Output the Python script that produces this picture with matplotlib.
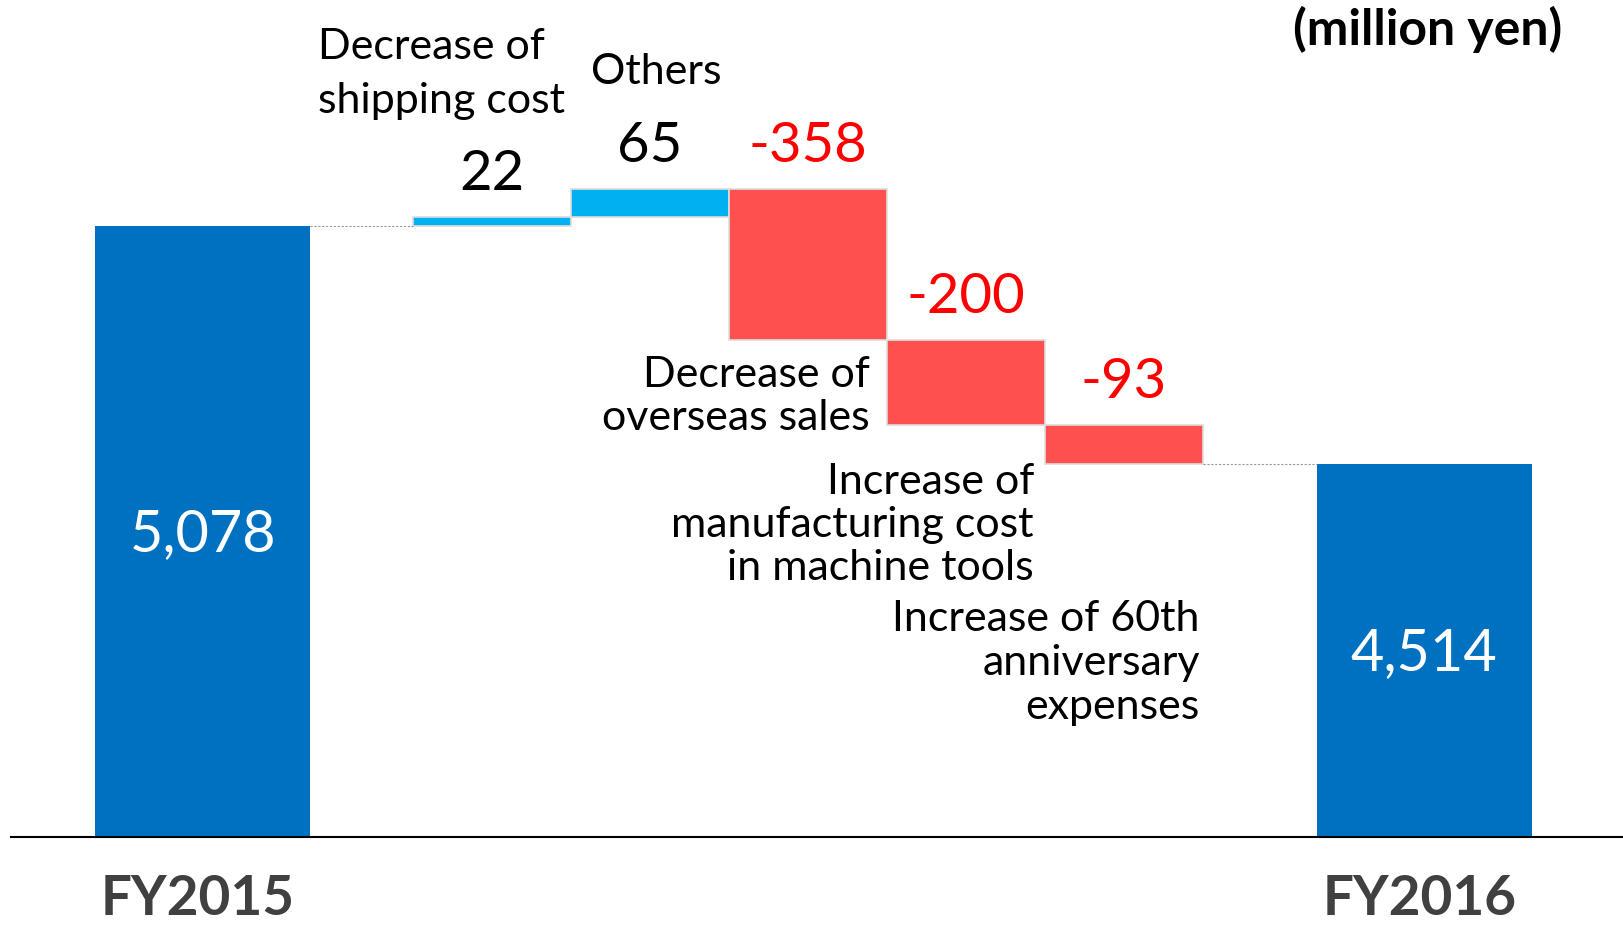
import numpy as np
import matplotlib.pyplot as plt

plt.rcParams['font.family'] = ['Lato', 'DejaVu Sans']

# operating income bridge, million yen
start_label = 'FY2015'
end_label = 'FY2016'
start_value = 5078
end_value = 4514
step_names = ['Decrease of\nshipping cost',
              'Others',
              'Decrease of\noverseas sales',
              'Increase of\nmanufacturing cost\nin machine tools',
              'Increase of 60th\nanniversary\nexpenses']
step_values = [22, 65, -358, -200, -93]
unit_label = '(million yen)'

DARK_BLUE = '#0070C0'
LIGHT_BLUE = '#00B0F0'
RED_BAR = '#FF5050'
RED_TEXT = '#FF0000'
PT = 0.72  # pixels -> points at dpi 100
LABEL_FS = 31

steps = np.array(step_values)
ends = start_value + np.cumsum(steps)
starts = ends - steps
bottoms = np.minimum(starts, ends)
tops = np.maximum(starts, ends)

step_x = np.arange(len(steps))
start_x = -1.83
end_x = step_x[-1] + 1.9
total_w = 1.36

fig = plt.figure(figsize=(16.24, 9.27), dpi=100)
ax = fig.add_axes([11 / 1624, 90 / 927, 1 - 11 / 1624, 837 / 927])
ax.set_xlim(-3.044, 7.165)
ax.set_ylim(3630, 5613)

# totals
ax.bar([start_x, end_x], [start_value, end_value], width=total_w, color=DARK_BLUE)

# changes
colors = [LIGHT_BLUE if v > 0 else RED_BAR for v in steps]
ax.bar(step_x, np.abs(steps), bottom=bottoms, width=1.0, color=colors,
       edgecolor='#DDDDDD', linewidth=1.2)

# connectors
ax.plot([start_x + total_w / 2, step_x[0] - 0.5], [start_value, start_value],
        ls=(0, (2, 1.5)), color='#999999', lw=0.8)
ax.plot([step_x[-1] + 0.5, end_x - total_w / 2], [end_value, end_value],
        ls=(0, (2, 1.5)), color='#999999', lw=0.8)

# value labels
for x, v, top in zip(step_x, steps, tops):
    ax.annotate(f'{v:d}', (x, top), xytext=(0, 27 * PT), textcoords='offset points',
                ha='center', va='baseline', fontsize=40.5,
                color='black' if v > 0 else RED_TEXT)

for x, v in [(start_x, start_value), (end_x, end_value)]:
    ax.annotate(f'{v:,}', (x, (v + 3630) / 2), xytext=(0, -20 * PT),
                textcoords='offset points', ha='center', va='baseline',
                fontsize=41.5, color='white')

# category labels
ax.annotate(step_names[0], (step_x[0] - 0.5, ends[0]), xytext=(-95 * PT, 97 * PT),
            textcoords='offset points', ha='left', va='bottom', fontsize=LABEL_FS,
            linespacing=1.5)
ax.annotate(step_names[1], (step_x[1], ends[1]), xytext=(6 * PT, 98 * PT),
            textcoords='offset points', ha='center', va='bottom', fontsize=LABEL_FS)
ax.annotate(step_names[2], (step_x[2] + 0.5, ends[2]), xytext=(-17 * PT, -16 * PT),
            textcoords='offset points', ha='right', va='top', fontsize=LABEL_FS,
            linespacing=1.17)
ax.annotate(step_names[3], (step_x[3] + 0.5, ends[3]), xytext=(-11 * PT, -38 * PT),
            textcoords='offset points', ha='right', va='top', fontsize=LABEL_FS,
            linespacing=1.17)
ax.annotate(step_names[4], (step_x[4] + 0.5, ends[4]), xytext=(-3 * PT, -136 * PT),
            textcoords='offset points', ha='right', va='top', fontsize=LABEL_FS,
            linespacing=1.2)

# year labels under the axis
xaxis_tr = ax.get_xaxis_transform()
for x, lab in [(start_x, start_label), (end_x, end_label)]:
    ax.annotate(lab, (x, 0), xycoords=xaxis_tr, xytext=(-5 * PT, -78 * PT),
                textcoords='offset points', ha='center', va='baseline',
                fontsize=39.5, fontweight='bold', color='#404040',
                annotation_clip=False)

fig.text(1562 / 1624, 1 - 45 / 927, unit_label, ha='right', va='baseline',
         fontsize=36, fontweight='bold')

for side in ['top', 'left', 'right']:
    ax.spines[side].set_visible(False)
ax.spines['bottom'].set_color('black')
ax.spines['bottom'].set_linewidth(1.5)
ax.set_xticks([])
ax.set_yticks([])

fig.savefig('out.png', dpi=100)
